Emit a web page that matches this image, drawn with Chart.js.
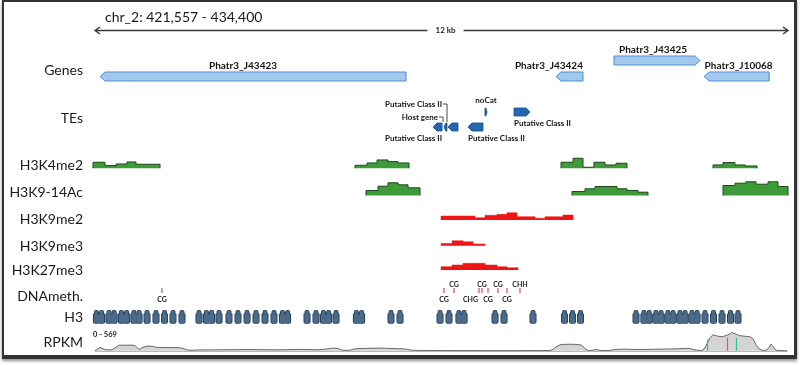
<!DOCTYPE html>
<html><head><meta charset="utf-8">
<script src="https://cdn.jsdelivr.net/npm/chart.js@4.4.1/dist/chart.umd.min.js"></script>
<style>
html,body{margin:0;padding:0;background:#fff;}
#wrap{position:relative;width:800px;height:365px;overflow:hidden;background:#fff;}
canvas{position:absolute;left:0;top:0;}
#frame{position:absolute;left:2px;top:0;width:795px;height:359px;box-sizing:border-box;border-style:solid;border-color:#333;border-width:2px 3px 4px 2px;box-shadow:0 2px 3px rgba(0,0,0,0.45);pointer-events:none;}
</style></head><body>
<div id="wrap"><canvas id="c" width="800" height="365"></canvas><div id="frame"></div></div>
<script>
// ---------------- DATA ----------------
const regionChrom = 'chr_2';
const regionStart = 421557;
const regionEnd = 434400;
const scaleBarLabel = '12 kb';
const rpkmRangeLabel = '0 - 569';
const rpkmMax = 569;

const trackNames = ['Genes','TEs','H3K4me2','H3K9-14Ac','H3K9me2','H3K9me3','H3K27me3','DNAmeth.','H3','RPKM'];

const geneNames   = ['Phatr3_J43423','Phatr3_J43424','Phatr3_J43425','Phatr3_J10068'];
const geneStarts  = [421650, 430100, 431175, 432845];
const geneEnds    = [427320, 430600, 432770, 434050];
const geneStrands = ['-','-','+','-'];

const teNames   = ['Putative Class II','Host gene','Putative Class II','Putative Class II','noCat','Putative Class II'];
const teStarts  = [427821, 428025, 428099, 428469, 428784, 429322];
const teEnds    = [427988, 428080, 428284, 428747, 428822, 429618];
const teStrands = ['-','-','-','-','+','+'];

// histone ChIP signal: block edges (bp) and step values (enrichment) per block
const h3k4me2Edges = [
  [421520,421742,421946,422150,422317,422762],
  [426375,426598,426783,426987,427172,427376],
  [430193,430415,430601,430804,431008,431212,431416],
  [433010,433195,433417,433603,433825]];
const h3k4me2Values = [[6,2.7,4.3,6.3,4],[3,5.3,8.3,6.7,5.3],[6,10,1,6,3.3,5],[3.3,5.7,3.3,2.3]];

const h3k9acEdges = [
  [426579,426802,426987,427172,427358,427580],
  [430397,430638,430823,431231,431416,431620,431805],
  [433195,433417,433621,433807,434029,434214,434400]];
const h3k9acValues = [[5,9.3,12.7,10.7,7.7],[4,6.7,9,6.7,5,3.3],[10,12.3,13.7,11.3,13.7,9]];

const h3k9me2Edges = [[427969,428599,428784,429007,429192,429378,429711,429896,430230,430415]];
const h3k9me2Values = [[4,2.3,4.7,5.7,7.3,3.3,1.7,3.3,5]];

const h3k9me3Edges = [[427969,428173,428377,428562,428784]];
const h3k9me3Values = [[2.3,5,4,1.7]];

const h3k27me3Edges = [[427969,428173,428377,428784,429007,429192,429396]];
const h3k27me3Values = [[3.3,5,6.7,5,3.3,2.3]];

// DNA methylation sites
const methPos     = [422799,428025,428210,428673,428729,428840,429025,429192,429433];
const methContext = ['CG','CG','CG','CHG','CG','CG','CG','CG','CHH'];

// H3 nucleosome centres
const nucleosomes = [421583,421679,421815,421911,422046,422143,422278,422374,422521,422687,422845,423002,423169,
  423484,423621,423718,423855,424040,424207,424374,424541,424707,424874,425030,425126,
  425486,425653,425790,425886,426023,426401,426498,
  427042,427209,
  427951,428117,428301,428397,
  428970,429137,
  429674,
  430258,430406,430554,
  431583,431729,431826,431951,432048,432174,432270,432396,432493,432619,432715,432862,433019,433177,433334,433473];

// RNA-seq coverage (RPKM)
const rpkmPos = [421557,421613,421650,421705,421761,421872,421946,422002,422113,422206,422298,422354,422391,422447,422521,422613,422706,422947,423132,423206,423262,423355,423447,423874,424430,424985,425356,425727,425875,425968,426060,426116,426209,426283,426357,426468,426653,426839,427024,427209,427339,427413,427580,428043,429063,429989,430045,430119,430193,430360,430508,430582,430638,430693,430767,430805,430879,430916,431101,431175,431379,431657,431935,432213,432398,432509,432584,432639,432732,432825,432880,432954,433010,433102,433177,433269,433325,433362,433418,433510,433603,433695,433751,433807,433862,433918,433992,434029,434085,434140,434177,434251,434381];
const rpkmVal = [0,57,94,57,28,28,100,162,156,162,148,57,43,100,134,128,94,94,85,57,23,14,23,28,34,26,37,28,57,77,65,23,9,17,51,63,71,77,65,57,43,17,9,6,3,6,43,128,179,185,179,156,57,11,9,28,28,6,9,34,46,34,43,51,57,68,65,34,11,14,142,370,455,413,398,441,478,521,484,427,413,398,341,171,57,14,14,57,191,85,14,6,0];
const rpkmVariantPos = [430640, 432899, 433269, 433436];
const rpkmVariantColor = ['#2fc28f','#2fc28f','#e0602e','#2fc28f'];

// ---------------- LAYOUT / STYLE ----------------
const FONT = 'Lato, "Open Sans", sans-serif';
const view = { xMin: 421464, xMax: 434622, yMax: 14.6 };
const trackLabelY = [2.8,4.72,6.6,7.68,8.76,9.87,10.8,11.87,12.7,13.7];
const L = {
  titleY: 0.68, scaleBarY: 1.2,
  geneRow: [3.06,3.06,2.42,3.06],
  geneLabel: [{anchor:'mid',dx:-10},{anchor:'end',dx:0},{anchor:'mid',dx:-4},{anchor:'mid',dx:2}],
  teRow: [5.08,5.08,5.08,5.08,4.48,4.48],
  teLabel: [{anchor:'end',dy:11},{leader:true,dy:-10},{leader:true,dy:-23},{anchor:'start',dy:11},{anchor:'mid',dy:-12},{anchor:'start',dy:11}],
  baseK4: 6.73, baseAc: 7.82, baseK9me2: 8.8, baseK9me3: 9.83, baseK27: 10.8,
  sig: 0.04,
  methY: 11.62, methLabelSide: ['below','below','above','below','above','below','above','below','above'],
  methLabelAlign: ['center','center','center','right','center','center','center','center','center'],
  h3Y: 12.68, rpkmBase: 14.03, rpkmHeight: 0.8, rpkmLabelY: 13.4
};
const GREEN = '#3f9a3a', GREEN_D = '#1c4a1a', RED = '#f01414';

// ---------------- DATASETS ----------------
const datasets = [];
function addBlocks(edgesList, valuesList, base, fillC, lineC, bw) {
  edgesList.forEach((edges, bi) => {
    const vals = valuesList[bi];
    const pts = [{x: edges[0], y: base}];
    vals.forEach((v, i) => pts.push({x: edges[i], y: base - v * L.sig}));
    pts.push({x: edges[edges.length - 1], y: base - vals[vals.length - 1] * L.sig});
    pts.push({x: edges[edges.length - 1], y: base});
    datasets.push({type:'line', data: pts, stepped: true, fill: {value: base},
      backgroundColor: fillC, borderColor: lineC, borderWidth: bw, pointRadius: 0, tension: 0});
  });
}
addBlocks(h3k4me2Edges, h3k4me2Values, L.baseK4, GREEN, GREEN_D, 1);
addBlocks(h3k9acEdges, h3k9acValues, L.baseAc, GREEN, GREEN_D, 1);
addBlocks(h3k9me2Edges, h3k9me2Values, L.baseK9me2, RED, RED, 0.5);
addBlocks(h3k9me3Edges, h3k9me3Values, L.baseK9me3, RED, RED, 0.5);
addBlocks(h3k27me3Edges, h3k27me3Values, L.baseK27, RED, RED, 0.5);
datasets.push({type:'line',
  data: rpkmPos.map((p, i) => ({x: p, y: L.rpkmBase - rpkmVal[i] / rpkmMax * L.rpkmHeight})),
  fill: {value: L.rpkmBase}, backgroundColor: '#d4d4d4', borderColor: '#6a6a6a', borderWidth: 1,
  pointRadius: 0, tension: 0});
datasets.push({type:'line', showLine: false,
  data: methPos.map(p => ({x: p, y: L.methY})),
  pointStyle: 'line', pointRotation: 90, pointRadius: 2.6, pointBorderWidth: 1.5,
  pointBorderColor: methPos.map((p,i) => i === 0 ? '#a08a8c' : '#d8707e'), pointBackgroundColor: '#d8707e'});

// ---------------- DRAWING HELPERS ----------------
function arrowBox(ctx, x1, x2, yc, h, strand, tip) {
  const t = Math.min(tip, (x2 - x1) * 0.6);
  ctx.beginPath();
  if (strand === '-') {
    ctx.moveTo(x1, yc); ctx.lineTo(x1 + t, yc - h / 2); ctx.lineTo(x2, yc - h / 2);
    ctx.lineTo(x2, yc + h / 2); ctx.lineTo(x1 + t, yc + h / 2);
  } else {
    ctx.moveTo(x1, yc - h / 2); ctx.lineTo(x2 - t, yc - h / 2); ctx.lineTo(x2, yc);
    ctx.lineTo(x2 - t, yc + h / 2); ctx.lineTo(x1, yc + h / 2);
  }
  ctx.closePath();
}
function text(ctx, s, x, y, font, align, color) {
  ctx.font = font; ctx.textAlign = align || 'center'; ctx.textBaseline = 'middle';
  ctx.fillStyle = color || '#151515'; ctx.fillText(s, x, y);
}
function bottle(ctx, c, yc) {
  ctx.beginPath();
  ctx.roundRect(c - 2.7, yc - 2.5, 5.4, 8.5, [0, 0, 1.3, 1.3]);
  ctx.roundRect(c - 1.7, yc - 6.3, 3.4, 4.2, [1.4, 1.4, 0, 0]);
}

const tracksPlugin = {
  id: 'tracks',
  beforeDatasetsDraw(chart) {
    const {ctx, scales: {x, y}} = chart;
    ctx.save();
    ctx.strokeStyle = '#b8b8b8'; ctx.lineWidth = 1;
    ctx.beginPath();
    const yb = Math.round(y.getPixelForValue(L.rpkmBase)) + 0.5;
    ctx.moveTo(x.getPixelForValue(regionStart), yb); ctx.lineTo(x.getPixelForValue(regionEnd), yb);
    ctx.stroke();
    ctx.restore();
  },
  afterDatasetsDraw(chart) {
    const {ctx, scales: {x, y}} = chart;
    const X = v => x.getPixelForValue(v), Y = v => y.getPixelForValue(v);
    ctx.save();
    // header
    const xs = X(regionStart), xe = X(regionEnd);
    text(ctx, regionChrom + ': ' + regionStart.toLocaleString('en-US') + ' - ' + regionEnd.toLocaleString('en-US'),
      xs + 10, Y(L.titleY), '14px ' + FONT, 'left', '#1a1a1a');
    const ya = Math.round(Y(L.scaleBarY)) + 0.5;
    const xm = (xs + xe) / 2 + 4;
    ctx.font = 'bold 8px ' + FONT;
    const gw = ctx.measureText(scaleBarLabel).width / 2 + 8;
    ctx.strokeStyle = '#3a3a3a'; ctx.lineWidth = 1.4;
    ctx.beginPath();
    ctx.moveTo(xs, ya); ctx.lineTo(xm - gw, ya);
    ctx.moveTo(xm + gw, ya); ctx.lineTo(xe, ya);
    ctx.moveTo(xs + 5, ya - 3.5); ctx.lineTo(xs, ya); ctx.lineTo(xs + 5, ya + 3.5);
    ctx.moveTo(xe - 5, ya - 3.5); ctx.lineTo(xe, ya); ctx.lineTo(xe - 5, ya + 3.5);
    ctx.stroke();
    text(ctx, scaleBarLabel, xm, ya, 'bold 8px ' + FONT, 'center', '#222');

    // genes
    geneNames.forEach((name, i) => {
      const x1 = X(geneStarts[i]), x2 = X(geneEnds[i]), yc = Y(L.geneRow[i]);
      arrowBox(ctx, x1, x2, yc, 9, geneStrands[i], 5);
      ctx.fillStyle = '#a3c8ec'; ctx.fill();
      ctx.strokeStyle = '#4a8fd8'; ctx.lineWidth = 1; ctx.stroke();
      const lab = L.geneLabel[i];
      if (lab.anchor === 'end') text(ctx, name, x2 + lab.dx, yc - 11, 'bold 10px ' + FONT, 'right');
      else text(ctx, name, (x1 + x2) / 2 + lab.dx, yc - 11, 'bold 10px ' + FONT, 'center');
    });

    // TEs
    teNames.forEach((name, i) => {
      const x1 = X(teStarts[i]), x2 = X(teEnds[i]), yc = Y(L.teRow[i]);
      arrowBox(ctx, x1, x2, yc, 8, teStrands[i], 4);
      ctx.fillStyle = '#2566b0'; ctx.fill();
      ctx.strokeStyle = '#1a4c88'; ctx.lineWidth = 0.8; ctx.stroke();
      const lab = L.teLabel[i];
      const f = 'bold 8px ' + FONT;
      if (lab.leader) {
        const xt = x1 - 1, ly = yc + lab.dy;
        ctx.strokeStyle = '#333'; ctx.lineWidth = 0.9;
        ctx.beginPath(); ctx.moveTo(xt - 4, ly); ctx.lineTo(xt, ly); ctx.lineTo(xt, yc - 5); ctx.stroke();
        text(ctx, name, xt - 5, ly, f, 'right');
      } else if (lab.anchor === 'end') text(ctx, name, x2, yc + lab.dy, f, 'right');
      else if (lab.anchor === 'start') text(ctx, name, x1, yc + lab.dy, f, 'left');
      else text(ctx, name, (x1 + x2) / 2, yc + lab.dy, f, 'center');
    });

    // DNA methylation labels
    methPos.forEach((p, i) => {
      const px = X(p), yc = Y(L.methY);
      const ly = L.methLabelSide[i] === 'above' ? yc - 6 : yc + 9.5;
      if (L.methLabelAlign[i] === 'right') text(ctx, methContext[i], px - 1, ly, 'bold 7px ' + FONT, 'right', '#222');
      else text(ctx, methContext[i], px, ly, 'bold 7px ' + FONT, 'center', '#222');
    });

    // H3 nucleosomes
    const yh = Y(L.h3Y);
    ctx.strokeStyle = '#1f3650'; ctx.lineWidth = 1.6;
    nucleosomes.forEach(p => { bottle(ctx, X(p), yh); ctx.stroke(); });
    ctx.fillStyle = '#4b6b8b';
    nucleosomes.forEach(p => { bottle(ctx, X(p), yh); ctx.fill(); });

    // RPKM variants and range label
    const yb = Y(L.rpkmBase);
    rpkmVariantPos.forEach((p, i) => {
      let k = rpkmPos.findIndex(q => q >= p);
      const v = rpkmVal[Math.max(0, k)];
      const px = Math.round(X(p)) + 0.5;
      ctx.strokeStyle = rpkmVariantColor[i]; ctx.lineWidth = 1.2;
      ctx.beginPath(); ctx.moveTo(px, yb); ctx.lineTo(px, Y(L.rpkmBase - v / rpkmMax * L.rpkmHeight * 0.85)); ctx.stroke();
    });
    text(ctx, rpkmRangeLabel, xs - 2, Y(L.rpkmLabelY), 'bold 7.5px ' + FONT, 'left', '#222');
    ctx.restore();
  }
};

// ---------------- CHART ----------------
new Chart(document.getElementById('c'), {
  type: 'line',
  data: { datasets },
  options: {
    responsive: false, animation: false, devicePixelRatio: 1, events: [],
    layout: { padding: 0, autoPadding: false },
    plugins: { legend: { display: false }, tooltip: { enabled: false }, title: { display: false } },
    scales: {
      x: { type: 'linear', display: false, min: view.xMin, max: view.xMax },
      y: {
        type: 'linear', reverse: true, min: 0, max: view.yMax, position: 'left',
        afterBuildTicks: s => { s.ticks = trackLabelY.map(v => ({ value: v })); },
        afterFit: s => { s.width = 90; s.paddingTop = 0; s.paddingBottom = 0; },
        ticks: { autoSkip: false, padding: 7, color: '#1a1a1a', minRotation: 0, maxRotation: 0,
          font: { family: FONT, size: 14, lineHeight: 0.01 }, callback: (v, i) => trackNames[i] },
        grid: { display: false, drawTicks: false }, border: { display: false }
      }
    }
  },
  plugins: [tracksPlugin]
});
</script></body></html>
